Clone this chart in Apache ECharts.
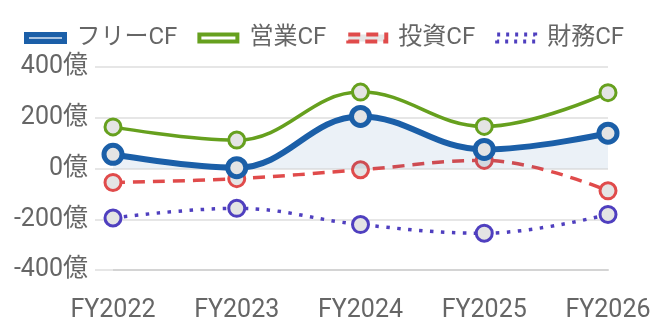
<!DOCTYPE html>
<html>
<head>
<meta charset="utf-8">
<script src="https://cdn.jsdelivr.net/npm/echarts@6/dist/echarts.min.js"></script>
<style>
  html, body { margin: 0; padding: 0; background: #fff; }
  #main { width: 660px; height: 330px; }
</style>
</head>
<body>
<div id="main"></div>
<script>
// 年度
var years = ['FY2022', 'FY2023', 'FY2024', 'FY2025', 'FY2026'];
// キャッシュフロー（億円）
var freeCF = [56, 3, 205, 75, 139];
var opCF = [164, 112, 301, 166, 299];
var invCF = [-55, -40, -5, 32, -88];
var finCF = [-195, -157, -221, -255, -181];

var FONT = 'Roboto, "Noto Sans CJK JP", sans-serif';
var BLUE = '#1b5fa8', GREEN = '#66a01e', RED = '#e04b4b', PURPLE = '#4f3fbf';
var DOT_FILL = '#e4e4e4';

function mkSeries(name, data, color, width, type, size, z) {
  return {
    name: name,
    type: 'line',
    data: data,
    smooth: 0.4,
    z: z,
    symbol: 'circle',
    symbolSize: size,
    lineStyle: { color: color, width: width, type: type },
    itemStyle: { color: DOT_FILL, borderColor: color, borderWidth: 3 }
  };
}

var chart = echarts.init(document.getElementById('main'));
var blue = mkSeries('フリーCF', freeCF, BLUE, 6, 'solid', 18, 5);
blue.itemStyle.borderWidth = 5;
blue.areaStyle = { color: 'rgba(27,95,168,0.12)' };
var series = [
  blue,
  mkSeries('営業CF', opCF, GREEN, 3.5, 'solid', 16, 4),
  mkSeries('投資CF', invCF, RED, 3.5, [12, 8], 16, 3),
  mkSeries('財務CF', finCF, PURPLE, 3.5, [3.5, 7.5], 16, 3)
];

var option = {
  animation: false,
  textStyle: { fontFamily: FONT },
  legend: {
    left: 19,
    top: 21,
    itemWidth: 38,
    itemHeight: 7,
    itemGap: 20,
    textStyle: { fontSize: 24, color: '#666', fontFamily: FONT, padding: [0, 0, 0, 7] },
    data: [
      { name: 'フリーCF', icon: 'rect', itemStyle: { color: '#a9c3e0', borderColor: BLUE, borderWidth: 5 } },
      { name: '営業CF', icon: 'rect', itemStyle: { color: '#fff', borderColor: GREEN, borderWidth: 4 } },
      { name: '投資CF', icon: 'rect', itemStyle: { color: '#e6e6e6', borderColor: RED, borderWidth: 4, borderType: [12, 6] } },
      { name: '財務CF', icon: 'rect', itemStyle: { color: '#fff', borderColor: PURPLE, borderWidth: 4, borderType: [3, 6] } }
    ]
  },
  grid: { left: 113, right: 52, top: 67, bottom: 60 },
  xAxis: {
    type: 'category',
    data: years,
    boundaryGap: false,
    axisLine: { show: true, onZero: false, lineStyle: { color: '#d4d4d4', width: 2 } },
    axisTick: { show: false },
    axisLabel: { color: '#666', fontSize: 25, margin: 28, fontFamily: FONT }
  },
  yAxis: {
    type: 'value',
    min: -400,
    max: 400,
    interval: 200,
    axisLine: { show: false },
    axisTick: { show: true, length: 18, lineStyle: { color: '#e6e6e6', width: 2 } },
    axisLabel: {
      color: '#666', fontSize: 25, margin: 25, fontFamily: FONT,
      formatter: function (v) { return v + '億'; }
    },
    splitLine: { lineStyle: { color: '#e6e6e6', width: 2 } }
  },
  series: series
};
chart.setOption(option);

window.addEventListener('resize', function () {
  chart.resize();
});
</script>
</body>
</html>
